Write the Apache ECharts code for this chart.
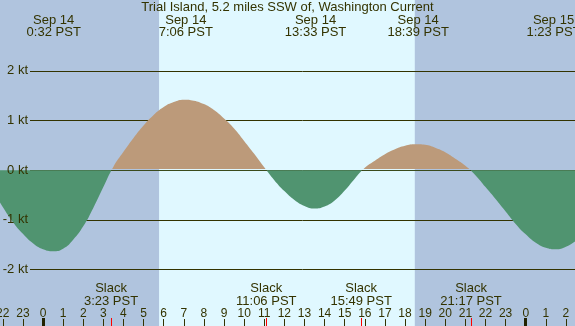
<!DOCTYPE html>
<html>
<head>
<meta charset="utf-8">
<script src="https://cdn.jsdelivr.net/npm/echarts@6/dist/echarts.min.js"></script>
<style>html,body{margin:0;padding:0;background:#b0c4de;}#c{width:575px;height:326px;}</style>
</head>
<body>
<div id="c"></div>
<script>
// ---- data (hours from Sep 14 00:00 PST) ----
var titleText = "Trial Island, 5.2 miles SSW of, Washington Current";
var times = [-2.5, -2, -1.5, -1, -0.5, 0, 0.5, 1, 1.5, 2, 2.5, 3, 3.5, 4, 4.5, 5, 5.5, 6, 6.5, 7, 7.5, 8, 8.5, 9, 9.5, 10, 10.5, 11, 11.5, 12, 12.5, 13, 13.5, 14, 14.5, 15, 15.5, 16, 16.5, 17, 17.5, 18, 18.5, 19, 19.5, 20, 20.5, 21, 21.5, 22, 22.5, 23, 23.5, 24, 24.5, 25, 25.5, 26, 26.5];
var speeds = [-0.41, -0.74, -1.04, -1.28, -1.47, -1.59, -1.63, -1.58, -1.40, -1.13, -0.76, -0.34, 0.07, 0.37, 0.65, 0.90, 1.11, 1.27, 1.37, 1.42, 1.40, 1.33, 1.21, 1.04, 0.84, 0.59, 0.33, 0.06, -0.20, -0.42, -0.60, -0.72, -0.77, -0.73, -0.61, -0.41, -0.17, 0.05, 0.19, 0.32, 0.42, 0.49, 0.52, 0.51, 0.45, 0.36, 0.23, 0.09, -0.10, -0.34, -0.58, -0.83, -1.08, -1.29, -1.46, -1.56, -1.59, -1.54, -1.42];
var eventTimes = [0.533, 7.1, 13.55, 18.65, 25.383];
var eventDates = ["Sep 14", "Sep 14", "Sep 14", "Sep 14", "Sep 15"];
var eventClock = ["0:32 PST", "7:06 PST", "13:33 PST", "18:39 PST", "1:23 PST"];
var slackTimes = [3.383, 11.1, 15.817, 21.283];
var slackClock = ["3:23 PST", "11:06 PST", "15:49 PST", "21:17 PST"];
var hourTicks = [-2, -1, 0, 1, 2, 3, 4, 5, 6, 7, 8, 9, 10, 11, 12, 13, 14, 15, 16, 17, 18, 19, 20, 21, 22, 23, 24, 25, 26];
var hourLabels = ["22", "23", "0", "1", "2", "3", "4", "5", "6", "7", "8", "9", "10", "11", "12", "13", "14", "15", "16", "17", "18", "19", "20", "21", "22", "23", "0", "1", "2"];
var midnights = [0, 24];
var sunEvents = [5.77, 18.49];
var levels = [-2, -1, 0, 1, 2];
var levelLabels = ["-2 kt", "-1 kt", "0 kt", "1 kt", "2 kt"];

// ---- view ----
var XMIN = -2.138, XMAX = 26.45, YMIN = -3.135, YMAX = 3.425;
var INK = '#333300', NIGHT = '#b0c4de', DAY = '#e0f8ff', FLOOD = '#bc9a7a', EBB = '#509470', FONT = '"Liberation Sans", Arial, sans-serif';

var seriesData = times.map(function (t, i) { return [t, speeds[i]]; });
function idx(arr, v) { for (var i = 0; i < arr.length; i++) { if (Math.abs(arr[i] - v) < 1e-6) return i; } return -1; }

var chart = echarts.init(document.getElementById('c'), null, { renderer: 'canvas' });
var baseX = { type: 'value', gridIndex: 0, min: XMIN, max: XMAX, axisLine: { show: false }, splitLine: { show: false } };
chart.setOption({
  animation: false,
  textStyle: { fontFamily: FONT, color: INK },
  title: { text: titleText, left: 'center', top: 0, padding: 0, textStyle: { fontFamily: FONT, fontSize: 13, fontWeight: 'normal', color: INK, lineHeight: 15 } },
  grid: [
    { left: 0, right: 0, top: 0, bottom: 0, containLabel: false, outerBoundsMode: 'none', show: true, borderWidth: 0, backgroundColor: NIGHT },
    { left: 30, right: 0, top: 0, bottom: 0, containLabel: false, outerBoundsMode: 'none' }
  ],
  xAxis: [
    Object.assign({}, baseX, { position: 'bottom', z: 0,
      axisTick: { show: false, customValues: [XMIN].concat(sunEvents, [XMAX]) },
      axisLabel: { show: false },
      splitArea: { show: true, areaStyle: { color: [NIGHT, DAY] } } }),
    Object.assign({}, baseX, { position: 'top', z: 5,
      axisTick: { show: false },
      axisLabel: { inside: true, customValues: eventTimes, margin: 14, fontSize: 13, lineHeight: 12, color: INK, fontFamily: FONT,
        formatter: function (v) { var i = idx(eventTimes, v); return eventDates[i] + '\n' + eventClock[i]; } } }),
    Object.assign({}, baseX, { position: 'bottom', z: 6,
      axisTick: { show: true, inside: true, length: 8, customValues: slackTimes, lineStyle: { color: '#ff0000', width: 1 } },
      axisLabel: { inside: true, customValues: slackTimes, margin: 18.5, fontSize: 13, lineHeight: 12.5, color: INK, fontFamily: FONT,
        formatter: function (v) { var i = idx(slackTimes, v); return 'Slack\n' + slackClock[i]; } } }),
    Object.assign({}, baseX, { position: 'bottom', z: 5,
      axisTick: { show: true, inside: true, length: 7, customValues: hourTicks, lineStyle: { color: INK, width: 1 } },
      axisLabel: { inside: true, customValues: hourTicks, margin: 6.5, fontSize: 12, color: INK, fontFamily: FONT,
        formatter: function (v) { return hourLabels[idx(hourTicks, v)]; } } }),
    Object.assign({}, baseX, { position: 'bottom', z: 5,
      axisTick: { show: true, inside: true, length: 8, customValues: midnights, lineStyle: { color: '#222200', width: 3 } },
      axisLabel: { show: false } }),
    { type: 'value', gridIndex: 1, min: 0, max: 1, show: false }
  ],
  yAxis: [
    { type: 'value', gridIndex: 0, min: YMIN, max: YMAX, show: false },
    { type: 'value', gridIndex: 1, position: 'left', min: YMIN, max: YMAX, z: 1, axisLine: { show: false },
      axisTick: { show: false, customValues: levels }, axisLabel: { show: false },
      splitLine: { show: true, lineStyle: { color: INK, width: 1 } } },
    { type: 'value', gridIndex: 1, position: 'left', offset: 0, min: YMIN, max: YMAX, z: 6, axisLine: { show: false },
      axisTick: { show: false, customValues: levels }, splitLine: { show: false },
      axisLabel: { customValues: levels, margin: 2, fontSize: 13, color: INK, fontFamily: FONT,
        formatter: function (v) { return levelLabels[idx(levels, v)]; } } }
  ],
  series: [{
    type: 'line', xAxisIndex: 0, yAxisIndex: 0, z: 2,
    data: seriesData, smooth: 0.5, showSymbol: false, silent: true, clip: true,
    lineStyle: { width: 0 },
    areaStyle: { opacity: 1, origin: 0, color: FLOOD }
  }]
});

// colour the area by sign, using the axis scale to locate zero;
// a thin clear band just above zero lets the 0 kt line show through the flood fill
var yTop = chart.convertToPixel({ yAxisIndex: 0 }, YMAX);
var yBot = chart.convertToPixel({ yAxisIndex: 0 }, YMIN);
var yZero = chart.convertToPixel({ yAxisIndex: 0 }, 0);
var span = yBot - yTop;
var f = (yZero - yTop) / span;
var band = 1.2 / span;
chart.setOption({
  series: [{
    areaStyle: {
      opacity: 1, origin: 0,
      color: new echarts.graphic.LinearGradient(0, yTop, 0, yBot, [
        { offset: 0, color: FLOOD }, { offset: f - band, color: FLOOD },
        { offset: f - band, color: 'rgba(0,0,0,0)' }, { offset: f, color: 'rgba(0,0,0,0)' },
        { offset: f, color: EBB }, { offset: 1, color: EBB }
      ], true)
    }
  }]
});
</script>
</body>
</html>
